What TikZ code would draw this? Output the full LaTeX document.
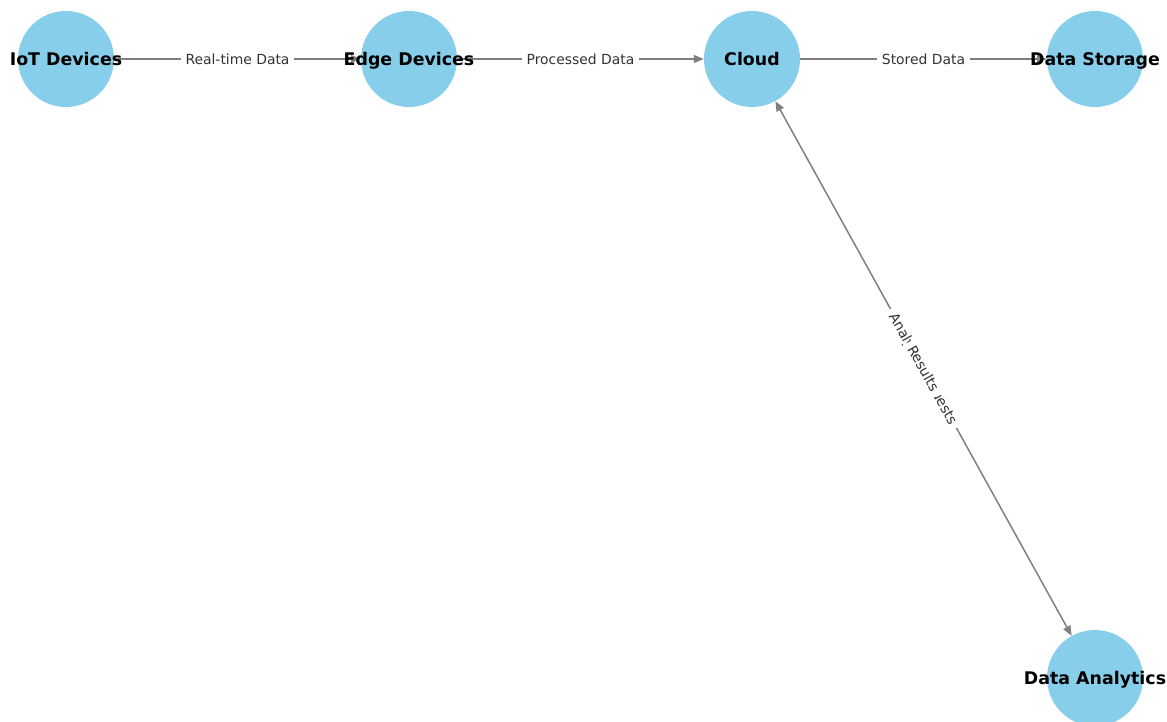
\documentclass[tikz,border=0pt]{standalone}
\usepackage{fontspec}
\setmainfont{DejaVu Sans}
\usetikzlibrary{arrows.meta}
\definecolor{skyblue}{HTML}{87CEEB}
\begin{document}
\begin{tikzpicture}[x=1pt,y=-1pt,
  vert/.style={circle,fill=skyblue,minimum size=96pt,inner sep=0pt},
  vlabel/.style={font=\fontsize{17.4}{20}\selectfont\bfseries, text=black, text height=12.7pt, text depth=0pt, inner sep=0pt},
  tipa/.tip={Triangle[length=10pt,width=8pt]},
  conn/.style={draw=gray, line width=1.5pt, -tipa},
  elabel/.style={font=\fontsize{13.9}{16}\selectfont, text=black!80, fill=white, inner sep=5pt, text height=10.2pt, text depth=0pt}]
\useasboundingbox (0,0) rectangle (1167,722);
\node[vert] (iot) at (66,59) {};
\node[vert] (edge) at (409,59) {};
\node[vert] (cloud) at (752,59) {};
\node[vert] (store) at (1095,59) {};
\node[vert] (ana) at (1095,678) {};
\draw[conn] (iot) -- node[elabel]{Real-time Data} (edge);
\draw[conn] (edge) -- node[elabel]{Processed Data} (cloud);
\draw[conn] (cloud) -- node[elabel]{Stored Data} (store);
\draw[conn, tipa-tipa] (cloud) -- node[elabel,sloped]{Analysis Requests} node[elabel,sloped]{Results} (ana);
\node[vlabel] (tiot) at (iot) {IoT Devices};
\node[vlabel] (tedge) at (edge) {Edge Devices};
\node[vlabel] (tcloud) at (cloud) {Cloud};
\node[vlabel] (tstore) at (store) {Data Storage};
\node[vlabel] (tana) at (ana) {Data Analytics};
\end{tikzpicture}
\end{document}
